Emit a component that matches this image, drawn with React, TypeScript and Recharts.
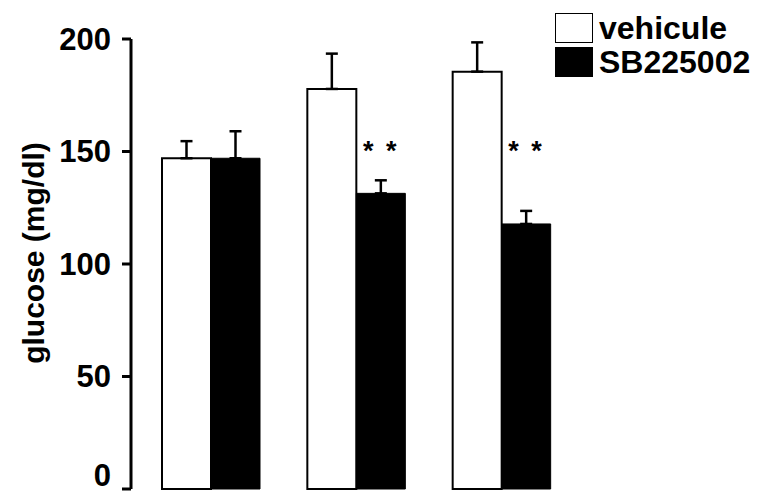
import React from "react";
import {
  BarChart,
  Bar,
  XAxis,
  YAxis,
  ErrorBar,
  ReferenceDot,
} from "recharts";

// 数据
const groups = ["g1", "g2", "g3"];
const vehicule = [147, 177.8, 185.5];
const vehiculeErr = [7.6, 15.7, 13];
const sb = [147, 131.4, 117.8];
const sbErr = [12, 5.8, 5.8];
const sig = ["", "* *", "* *"];
const sigLevel = 153;
const yTicks = [0, 50, 100, 150, 200];
const seriesNames = ["vehicule", "SB225002"];
const seriesFills = ["#fff", "#000"];

const data = groups.map((g, i) => ({
  group: g,
  vehicule: vehicule[i],
  vehErr: [0, vehiculeErr[i]],
  SB225002: sb[i],
  sbErr: [0, sbErr[i]],
}));

const FONT = "'Liberation Sans', Arial, Helvetica, sans-serif";

if (typeof document !== "undefined") {
  document.body.style.margin = "0";
}

// 凡例（グラフの上に重ねる）
const LegendBox = () => (
  <div
    style={{
      position: "absolute",
      left: 555,
      top: 11,
      fontFamily: FONT,
      fontWeight: "bold",
      fontSize: 32,
    }}
  >
    {seriesNames.map((name, i) => (
      <div
        key={name}
        style={{ display: "flex", alignItems: "center", height: 34, lineHeight: "34px" }}
      >
        <div
          style={{
            width: 36,
            height: 28,
            background: seriesFills[i],
            border: "1.5px solid #000",
            marginRight: 6,
          }}
        />
        <span>{name}</span>
      </div>
    ))}
  </div>
);

// 目盛りラベル（0は下端で切れないよう少し上げる）
const YTick = (props: any) => {
  const { x, y, payload } = props;
  const shift = payload.value === 0 ? -14 : 0;
  return (
    <text
      x={x}
      y={y + shift}
      textAnchor="end"
      dominantBaseline="central"
      fontFamily={FONT}
      fontWeight="bold"
      fontSize={31}
      fill="#000"
    >
      {payload.value}
    </text>
  );
};

const YLabel = (props: any) => {
  const vb = props.viewBox || {};
  const cx = vb.x + 33;
  const cy = vb.y + vb.height / 2 - 11;
  return (
    <text
      x={cx}
      y={cy}
      transform={`rotate(-90, ${cx}, ${cy})`}
      textAnchor="middle"
      dominantBaseline="central"
      fontFamily={FONT}
      fontWeight="bold"
      fontSize={30}
      fill="#000"
    >
      glucose (mg/dl)
    </text>
  );
};

export default function App() {
  return (
    <div style={{ position: "relative", width: 760, height: 493 }}>
      <BarChart
        width={760}
        height={493}
        data={data}
        margin={{ top: 39, right: 186, bottom: 4, left: 0 }}
        barSize={49}
        barGap={0}
      >
        <XAxis dataKey="group" hide padding={{ left: 7, right: 0 }} />
        <YAxis
          width={131}
          domain={[0, 200]}
          ticks={yTicks}
          interval={0}
          axisLine={{ stroke: "#000", strokeWidth: 3 }}
          tickLine={{ stroke: "#000", strokeWidth: 3 }}
          tickSize={9}
          tickMargin={11}
          tick={<YTick />}
          label={<YLabel />}
        />
        <Bar
          dataKey="vehicule"
          fill={seriesFills[0]}
          stroke="#000"
          strokeWidth={2}
          isAnimationActive={false}
        >
          <ErrorBar dataKey="vehErr" width={6} stroke="#000" strokeWidth={2.5} />
        </Bar>
        <Bar
          dataKey="SB225002"
          fill={seriesFills[1]}
          stroke="#000"
          strokeWidth={1}
          isAnimationActive={false}
        >
          <ErrorBar dataKey="sbErr" width={6} stroke="#000" strokeWidth={2.5} />
        </Bar>
        {groups.map((g, i) =>
          sig[i] ? (
            <ReferenceDot
              key={g}
              x={g}
              y={sigLevel}
              r={0}
              shape={(p: any) => (
                <text
                  x={p.cx + 25}
                  y={p.cy + 15}
                  textAnchor="middle"
                  fontFamily={FONT}
                  fontWeight="bold"
                  fontSize={27}
                  letterSpacing={2.5}
                  fill="#000"
                >
                  {sig[i]}
                </text>
              )}
            />
          ) : null
        )}
      </BarChart>
      <LegendBox />
    </div>
  );
}
